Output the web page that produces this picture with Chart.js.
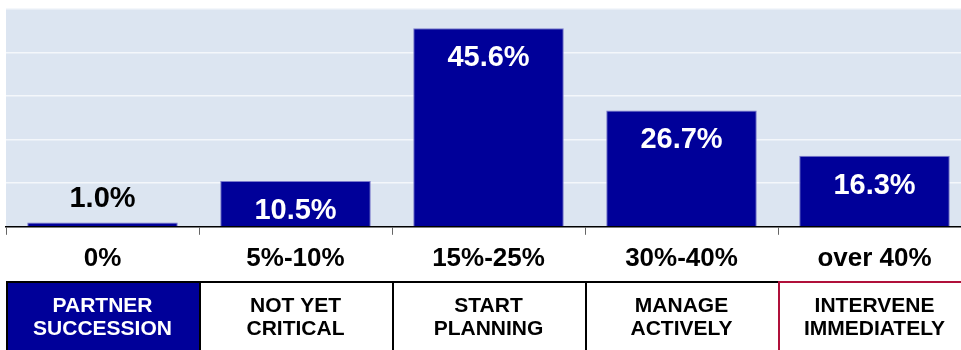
<!DOCTYPE html>
<html>
<head>
<meta charset="utf-8">
<script src="https://cdn.jsdelivr.net/npm/chart.js@4"></script>
<style>
  html, body { margin: 0; padding: 0; background: #ffffff; overflow: hidden; }
  #wrap { width: 975px; height: 350px; position: relative; }
</style>
</head>
<body>
<div id="wrap"><canvas id="c"></canvas></div>
<script>
const categories = ["0%", "5%-10%", "15%-25%", "30%-40%", "over 40%"];
const values = [1.0, 10.5, 45.6, 26.7, 16.3];
const stageLines = [
  ["PARTNER", "SUCCESSION"],
  ["NOT YET", "CRITICAL"],
  ["START", "PLANNING"],
  ["MANAGE", "ACTIVELY"],
  ["INTERVENE", "IMMEDIATELY"]
];
const yTicks = [0, 10, 20, 30, 40, 50];

const NAVY = "#000099";
const FONT = "'Liberation Sans', Arial, sans-serif";

const plotBg = {
  id: "plotBg",
  beforeDraw(chart) {
    const { ctx, chartArea: a } = chart;
    ctx.save();
    ctx.fillStyle = "#dce5f1";
    ctx.fillRect(a.left, a.top, a.right - a.left, a.bottom - a.top);
    ctx.restore();
  }
};

const barLabels = {
  id: "barLabels",
  afterDatasetsDraw(chart) {
    const { ctx } = chart;
    const meta = chart.getDatasetMeta(0);
    ctx.save();
    ctx.font = "bold 29px " + FONT;
    ctx.textAlign = "center";
    ctx.textBaseline = "middle";
    meta.data.forEach((bar, i) => {
      const v = values[i];
      const txt = v.toFixed(1) + "%";
      const h = bar.base - bar.y;
      if (h > 40) {
        ctx.fillStyle = "#ffffff";
        ctx.fillText(txt, bar.x, bar.y + 30);
      } else {
        ctx.fillStyle = "#000000";
        ctx.fillText(txt, bar.x, bar.y - 23);
      }
    });
    ctx.restore();
  }
};

const stageRow = {
  id: "stageRow",
  afterDraw(chart) {
    const { ctx } = chart;
    const xs = chart.scales.x;
    const n = categories.length;
    const w = (xs.right - xs.left) / n;
    const top = 282;
    const bottom = 352;
    ctx.save();
    for (let i = 0; i < n; i++) {
      const cx = xs.getPixelForValue(i);
      const l = cx - w / 2;
      if (i === 0) {
        ctx.fillStyle = NAVY;
        ctx.fillRect(l, top, w, bottom - top);
      }
    }
    ctx.lineWidth = 2;
    for (let i = 0; i < n; i++) {
      const cx = xs.getPixelForValue(i);
      const l = cx - w / 2, r = cx + w / 2;
      ctx.strokeStyle = i === n - 1 ? "#b0103a" : "#000000";
      ctx.beginPath();
      ctx.moveTo(l + 1, bottom);
      ctx.lineTo(l + 1, top);
      ctx.lineTo(r + 1, top);
      ctx.stroke();
    }
    ctx.font = "bold 21px " + FONT;
    ctx.textAlign = "center";
    ctx.textBaseline = "middle";
    for (let i = 0; i < n; i++) {
      const cx = xs.getPixelForValue(i);
      ctx.fillStyle = i === 0 ? "#ffffff" : "#000000";
      ctx.fillText(stageLines[i][0], cx, 306);
      ctx.fillText(stageLines[i][1], cx, 329);
    }
    ctx.restore();
  }
};

new Chart(document.getElementById("c"), {
  type: "bar",
  data: {
    labels: categories,
    datasets: [{
      data: values,
      backgroundColor: NAVY,
      borderColor: "#7a7acc",
      borderWidth: 1,
      categoryPercentage: 0.78,
      barPercentage: 1.0
    }]
  },
  options: {
    responsive: true,
    maintainAspectRatio: false,
    animation: false,
    layout: { padding: { top: 9, left: 6, right: 4, bottom: 68 } },
    plugins: { legend: { display: false }, tooltip: { enabled: false } },
    scales: {
      x: {
        grid: { display: true, drawOnChartArea: false, drawTicks: true, tickLength: 8, color: "#666666", offset: true },
        border: { display: true, color: "#000000", width: 1.5 },
        ticks: {
          color: "#000000",
          padding: 8,
          font: { family: FONT, size: 26, weight: "bold", lineHeight: 1.2 }
        }
      },
      y: {
        min: 0,
        max: 50,
        afterBuildTicks(scale) { scale.ticks = yTicks.map(v => ({ value: v })); },
        grid: { color: "#f4f7fb", lineWidth: 1.5, drawTicks: false },
        border: { display: false },
        ticks: { display: false }
      }
    }
  },
  plugins: [plotBg, barLabels, stageRow]
});
</script>
</body>
</html>
